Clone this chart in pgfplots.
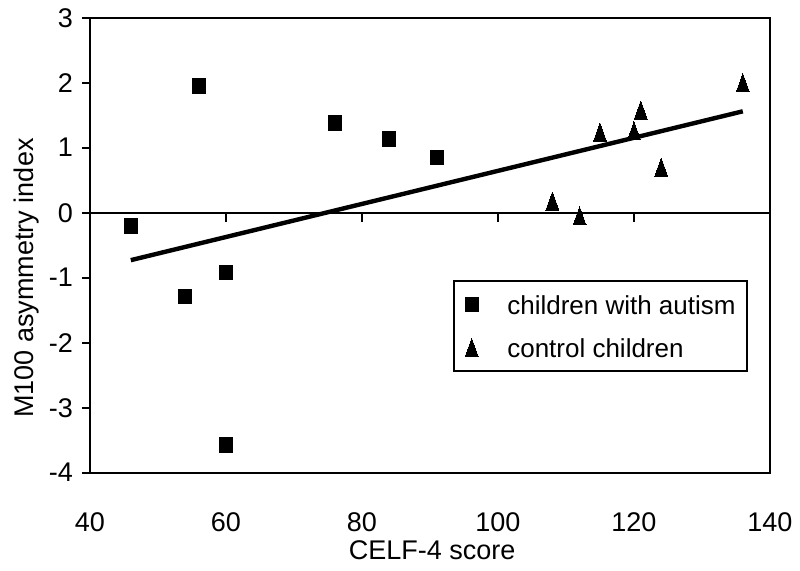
\documentclass[border=0pt]{standalone}
\usepackage{fontspec}
\setmainfont{Liberation Sans}
\usepackage{pgfplots}
\pgfplotsset{compat=1.18}
\begin{document}
\begin{tikzpicture}
\begin{axis}[
  at={(0pt,0pt)}, anchor=south west,
  scale only axis, width=340pt, height=227.5pt,
  xmin=40, xmax=140, ymin=-4, ymax=3,
  xtick={40,60,80,100,120,140},
  xticklabels={40,60,80,100,120,140},
  ytick={-4,-3,-2,-1,0,1,2,3},
  yticklabels={-4,-3,-2,-1,0,1,2,3},
  x tick style={draw=none},
  ytick pos=left,
  y tick style={line width=1pt, black},
  tick align=outside, major tick length=4pt,
  axis line style={line width=1pt},
  ticklabel style={font=\fontsize{13.5}{16}\selectfont},
  xticklabel style={anchor=center, yshift=-20.9pt},
  yticklabel style={anchor=east, xshift=-1pt},
  xlabel={CELF-4 score}, ylabel={M100 asymmetry index},
  label style={font=\fontsize{13.5}{16}\selectfont},
  xlabel style={at={(axis description cs:0.503,-0.17)}, anchor=center},
  ylabel style={at={(axis description cs:-0.0935,0.428)}, anchor=center},
  legend cell align=left,
  legend image code/.code={\draw[#1, mark repeat=2, mark phase=2] plot coordinates {(0pt,0pt) (5pt,0pt) (10pt,0pt)};},
  legend style={at={(axis description cs:0.534,0.4235)}, anchor=north west,
    draw=black, line width=1pt, font=\fontsize{13}{15}\selectfont,
    inner xsep=5.5pt, inner ysep=7pt, row sep=12pt,
    nodes={inner sep=0pt, text height=9.5pt, text depth=0pt},
    /tikz/every odd column/.append style={column sep=14.5pt}},
]
\draw[line width=1pt] (axis cs:40,0) -- (axis cs:140,0);
\draw[line width=1pt] (axis cs:60,0) -- ++(0pt,-4.5pt);
\draw[line width=1pt] (axis cs:80,0) -- ++(0pt,-4.5pt);
\draw[line width=1pt] (axis cs:100,0) -- ++(0pt,-4.5pt);
\draw[line width=1pt] (axis cs:120,0) -- ++(0pt,-4.5pt);
\addplot[forget plot, black, line width=2.2pt, no marks] coordinates {(46,-0.73) (136,1.56)};
\addplot[only marks, black, mark=square*, mark size=3.3pt, mark options={yscale=1.12, line width=0pt}] coordinates {
(46,-0.20) (54,-1.29) (56,1.95) (60,-0.92) (60,-3.57) (76,1.38) (84,1.13) (91,0.85)};
\addlegendentry{children with autism}
\addplot[only marks, black, mark=triangle*, mark size=6pt, mark options={xscale=0.62, yshift=-1.5pt, line width=0pt}] coordinates {
(108,0.18) (112,-0.05) (115,1.24) (120,1.26) (121,1.58) (124,0.70) (136,2.00)};
\addlegendentry{control children}
\end{axis}
\pgfresetboundingbox
\path (-45pt,-48.65pt) rectangle (355pt,236.35pt);
\end{tikzpicture}
\end{document}
